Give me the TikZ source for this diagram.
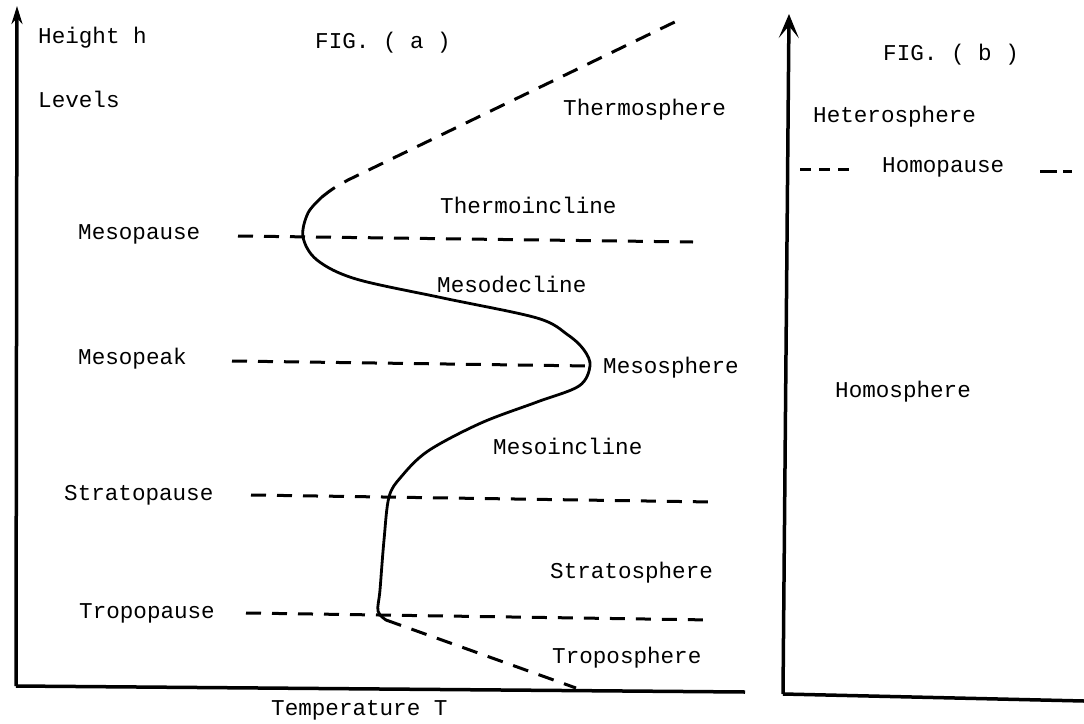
\documentclass[tikz,border=0pt]{standalone}
\usepackage{fontspec}
\setmainfont{Liberation Mono}
\usetikzlibrary{arrows.meta}
\begin{document}
\begin{tikzpicture}[x=1pt,y=-1pt,
  lbl/.style={inner sep=0pt,anchor=base west,font=\fontsize{22.6}{26}\selectfont},
  axisline/.style={line width=3.5pt},
  levelline/.style={line width=3pt,dash pattern=on 15pt off 11pt},
  curveline/.style={line width=2.8pt,line cap=round,line join=round},
  dcurve/.style={line width=3pt,dash pattern=on 16pt off 11pt}]
\useasboundingbox (0,0) rectangle (1084,723);
\fill[white] (0,0) rectangle (1084,723);
% ---- Fig (a) axes
\coordinate (aorig) at (16,686);
\coordinate (atop) at (17,6);
\coordinate (aright) at (745,692);
\draw[axisline,-{Stealth[length=18pt,width=11pt]}] (aorig) -- (atop);
\draw[axisline] (aorig) -- (aright);
% ---- Fig (b) axes
\coordinate (borig) at (783,694);
\coordinate (btop) at (789,14);
\coordinate (bright) at (1084,701);
\draw[axisline,-{Stealth[length=24pt,width=20pt,inset=12pt]}] (borig) -- (btop);
\draw[axisline] (borig) -- (bright);
% ---- level lines
\coordinate (mpL) at (238,236); \coordinate (mpR) at (693,242);
\coordinate (mkL) at (232,361); \coordinate (mkR) at (590,366);
\coordinate (spL) at (251,495); \coordinate (spR) at (713,502);
\coordinate (tpL) at (246,613); \coordinate (tpR) at (712,620);
\draw[levelline] (mpL) -- (mpR);
\draw[levelline] (mkL) -- (mkR);
\draw[levelline] (spL) -- (spR);
\draw[levelline] (tpL) -- (tpR);
% ---- temperature profile
\coordinate (thtop) at (683,18);
\coordinate (thjoin) at (322,197);
\coordinate (kink) at (386,620);
\coordinate (trbot) at (576,688);
\draw[dcurve] (thjoin) .. controls (332,189) .. (348,180) -- (thtop);
\draw[curveline] plot[smooth,tension=0.55] coordinates {
  (322,197) (308,213) (303,237) (317,260) (356,279) (443,298) (537,318)
  (568,335) (584,350) (590,366) (579,386) (537,402) (481,423) (428,451)
  (401,477) (389,497) (384,540) (380,590) (378,611) (386,620)};
\draw[dcurve] (kink) -- (trbot);
% ---- labels fig (a)
\node[lbl] (hh) at (38,43) {Height h};
\node[lbl] (lv) at (38,107) {Levels};
\node[lbl] (figa) at (315,48) {FIG. ( a )};
\node[lbl] (thermo) at (563,115) {Thermosphere};
\node[lbl] (thinc) at (440,213) {Thermoincline};
\node[lbl] (mesop) at (78,239) {Mesopause};
\node[lbl] (mesdec) at (437,292) {Mesodecline};
\node[lbl] (mpk) at (78,364) {Mesopeak};
\node[lbl] (meso) at (603,373) {Mesosphere};
\node[lbl] (mesinc) at (493,454) {Mesoincline};
\node[lbl] (strp) at (64,500) {Stratopause};
\node[lbl] (strs) at (550,578) {Stratosphere};
\node[lbl] (trp) at (79,618) {Tropopause};
\node[lbl] (trs) at (552,663) {Troposphere};
\node[lbl] (temp) at (271,715) {Temperature T};
% ---- labels fig (b)
\node[lbl] (figb) at (883,60) {FIG. ( b )};
\node[lbl] (het) at (813,122) {Heterosphere};
\node[lbl] (homp) at (882,172) {Homopause};
\node[lbl] (hom) at (835,397) {Homosphere};
\coordinate (hdL1) at (800,169); \coordinate (hdL2) at (850,169);
\coordinate (hdR1) at (1040,171); \coordinate (hdR2) at (1072,171);
\draw[line width=3pt,dash pattern=on 11pt off 8pt] (hdL1) -- (hdL2);
\draw[line width=3pt,dash pattern=on 17pt off 6pt] (hdR1) -- (hdR2);
\end{tikzpicture}
\end{document}
